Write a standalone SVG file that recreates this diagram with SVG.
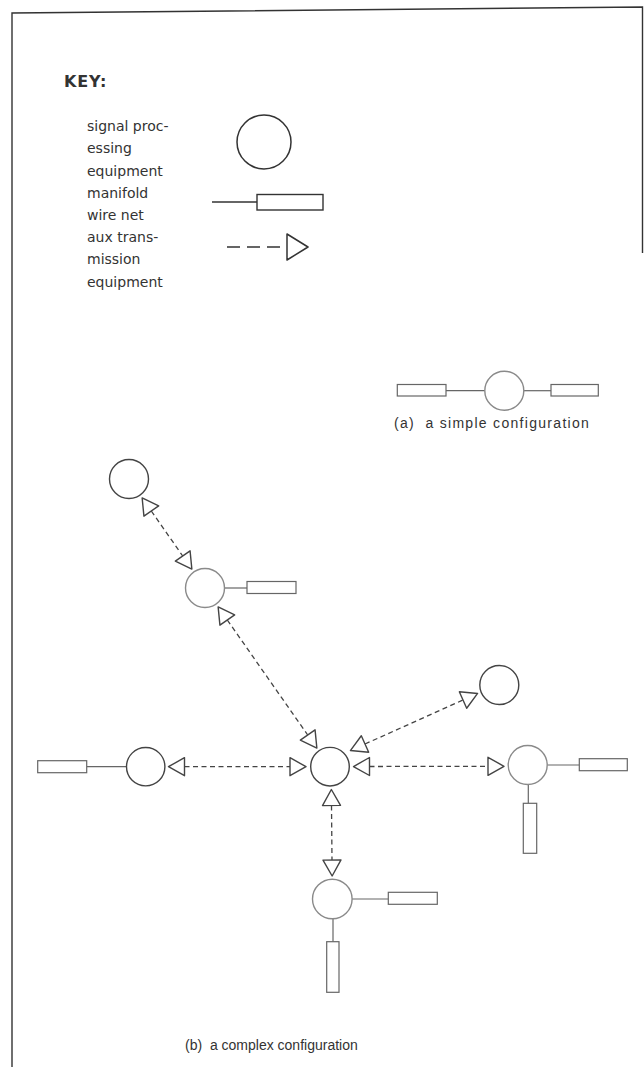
<svg xmlns="http://www.w3.org/2000/svg" width="644" height="1067" viewBox="0 0 644 1067">
<style>
.k{font-family:"DejaVu Sans",sans-serif;font-size:14px;fill:#333}
.key{font-family:"DejaVu Sans",sans-serif;font-size:16px;font-weight:bold;fill:#333;letter-spacing:0.8px}
.cap{font-family:"Liberation Sans",Arial,sans-serif;font-size:14px;fill:#333;white-space:pre}
.c{fill:#fff;stroke:#444;stroke-width:1.4}
.cl{fill:#fff;stroke:#8a8a8a;stroke-width:1.4}
.w{fill:none;stroke:#666;stroke-width:1.2}
.r{fill:#fff;stroke:#666;stroke-width:1.2}
.d{fill:none;stroke:#444;stroke-width:1.3;stroke-dasharray:5 3.5;marker-start:url(#tri);marker-end:url(#tri)}
.b{fill:none;stroke:#333;stroke-width:1.4}
</style>
<defs>
<marker id="tri" viewBox="-2 -11 20 22" refX="0" refY="0" markerWidth="20" markerHeight="22" markerUnits="userSpaceOnUse" orient="auto-start-reverse" overflow="visible">
<path d="M0,-9 L16,0 L0,9 Z" fill="#fff" stroke="#444" stroke-width="1.4" stroke-linejoin="round" stroke-dasharray="none"/>
</marker>
</defs>
<rect width="644" height="1067" fill="#fff"/>
<g id="border">
<path class="b" d="M12,1067 L12,13 L642.5,7 L642.5,253"/>
</g>
<g id="key">
<text class="key" x="64" y="87">KEY:</text>
<text class="k" x="87" y="131">signal proc-</text>
<text class="k" x="87" y="153">essing</text>
<text class="k" x="87" y="175.5">equipment</text>
<text class="k" x="87" y="197.5">manifold</text>
<text class="k" x="87" y="220">wire net</text>
<text class="k" x="87" y="242">aux trans-</text>
<text class="k" x="87" y="264">mission</text>
<text class="k" x="87" y="286.5">equipment</text>
<circle cx="264" cy="142" r="27" fill="none" stroke="#333" stroke-width="1.5"/>
<line x1="212" y1="202" x2="257" y2="202" stroke="#333" stroke-width="1.3"/>
<rect x="257" y="194.5" width="66" height="15.5" fill="none" stroke="#333" stroke-width="1.4"/>
<line x1="227" y1="247" x2="287" y2="247" stroke="#333" stroke-width="1.3" stroke-dasharray="13 7"/>
<path d="M287,234 L308,247 L287,260 Z" fill="#fff" stroke="#333" stroke-width="1.5" stroke-linejoin="round"/>
</g>
<g id="simple">
<line class="w" x1="446" y1="390.7" x2="485" y2="390.7"/>
<line class="w" x1="524" y1="390.7" x2="551" y2="390.7"/>
<rect class="r" x="397.3" y="384.5" width="48.7" height="11.5"/>
<rect class="r" x="551" y="384.5" width="47.3" height="11.5"/>
<circle class="cl" cx="504.3" cy="390.7" r="19.5"/>
<text class="cap" x="394" y="428" xml:space="preserve" style="letter-spacing:1.3px">(a)  a simple configuration</text>
</g>
<g id="connectors">
<line class="d" x1="151.3" y1="511" x2="182.7" y2="556"/>
<line class="d" x1="227.3" y1="620" x2="307.7" y2="735"/>
<line class="d" x1="365" y1="744" x2="463" y2="700"/>
<line class="d" x1="184.5" y1="766.7" x2="290" y2="766.7"/>
<line class="d" x1="369.5" y1="766.5" x2="488" y2="766.3"/>
<line class="d" x1="331.5" y1="805.5" x2="332" y2="860"/>
</g>
<g id="nodeA"><circle class="c" cx="129" cy="479" r="19.5"/></g>
<g id="nodeB">
<line class="w" x1="224.5" y1="588" x2="247" y2="588"/>
<rect class="r" x="247" y="581.5" width="49" height="12"/>
<circle class="cl" cx="205" cy="588" r="19.5"/>
</g>
<g id="nodeC"><circle class="c" cx="330" cy="766.7" r="19.3"/></g>
<g id="nodeD">
<line class="w" x1="86.7" y1="766.7" x2="126.5" y2="766.7"/>
<rect class="r" x="37.7" y="760.7" width="49" height="12"/>
<circle class="c" cx="145.7" cy="766.7" r="19.2"/>
</g>
<g id="nodeE"><circle class="c" cx="499.3" cy="685" r="19.5"/></g>
<g id="nodeF">
<line class="w" x1="547.2" y1="765" x2="579.3" y2="765"/>
<rect class="r" x="579.3" y="758.7" width="48" height="12"/>
<line class="w" x1="528.3" y1="784.5" x2="528.3" y2="803.3"/>
<rect class="r" x="523.3" y="803.3" width="13.4" height="50"/>
<circle class="cl" cx="527.7" cy="765" r="19.5"/>
</g>
<g id="nodeG">
<line class="w" x1="352" y1="899" x2="388.3" y2="899"/>
<rect class="r" x="388.3" y="892.3" width="49" height="12"/>
<line class="w" x1="333" y1="918.5" x2="333" y2="941.7"/>
<rect class="r" x="326.7" y="941.7" width="12.3" height="50.6"/>
<circle class="cl" cx="332.3" cy="899" r="19.8"/>
</g>
<g id="captionB">
<text class="cap" x="185" y="1050" xml:space="preserve">(b)  a complex configuration</text>
</g>
</svg>
